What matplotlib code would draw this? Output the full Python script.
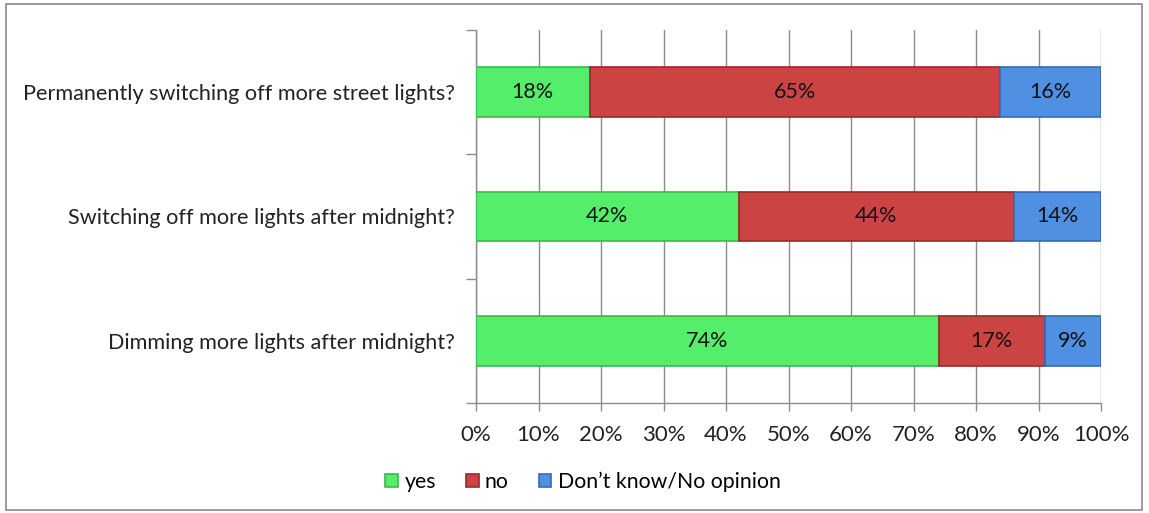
import matplotlib
matplotlib.use("Agg")
import matplotlib.pyplot as plt
from matplotlib.patches import Rectangle
from matplotlib.ticker import MultipleLocator, FuncFormatter, FixedLocator
import numpy as np

categories = ["Dimming more lights after midnight?",
              "Switching off more lights after midnight?",
              "Permanently switching off more street lights?"]
yes = [74, 42, 18]
no = [17, 44, 65]
dont_know = [9, 14, 16]
series_names = ["yes", "no", "Don\u2019t know/No opinion"]
colors = ["#55EE6A", "#CC4343", "#4F90E3"]
edges = ["#3DB850", "#952B2B", "#336CB3"]

plt.rcParams['font.family'] = ['Lato', 'DejaVu Sans']

fig = plt.figure(figsize=(11.49, 5.13), dpi=100)
fig.patches.append(Rectangle((0.005, 0.006), 0.989, 0.986, transform=fig.transFigure,
                             fill=False, edgecolor="#8a8a8a", linewidth=1.2))
ax = fig.add_axes([476/1149, 1-403/513, (1101-476)/1149, (403-30)/513])

data = np.array([yes, no, dont_know], dtype=float)
totals = data.sum(axis=0)
frac = data / totals * 100
y = np.arange(len(categories))
left = np.zeros(len(categories))
handles = []
for i, name in enumerate(series_names):
    bars = ax.barh(y, frac[i], left=left, height=0.4, color=colors[i],
                   edgecolor=edges[i], linewidth=1.2, label=name, zorder=3)
    handles.append(bars)
    for j in range(len(categories)):
        ax.text(left[j] + frac[i][j] / 2, y[j], f"{int(data[i][j])}%",
                ha="center", va="center", fontsize=15.5, color="#111111", zorder=4)
    left += frac[i]

ax.set_xlim(0, 100)
ax.set_ylim(-0.5, len(categories) - 0.5)
ax.xaxis.set_major_locator(MultipleLocator(10))
ax.xaxis.set_major_formatter(FuncFormatter(lambda v, p: f"{int(v)}%"))
ax.grid(axis="x", color="#8c8c8c", linewidth=1, zorder=0)
ax.set_axisbelow(True)

ax.set_yticks(y)
ax.set_yticklabels(categories, fontsize=15.6, color="#222222")
ax.yaxis.set_minor_locator(FixedLocator(np.arange(-0.5, len(categories), 1.0)))
ax.tick_params(axis="y", which="major", length=0, pad=15)
ax.tick_params(axis="y", which="minor", length=7, color="#8c8c8c", width=1)
ax.tick_params(axis="x", length=6, color="#8c8c8c", width=1, labelsize=16,
               labelcolor="#222222", pad=10)

for s in ["top", "right"]:
    ax.spines[s].set_visible(False)
for s in ["left", "bottom"]:
    ax.spines[s].set_color("#8c8c8c")
    ax.spines[s].set_linewidth(1)

fig.legend(handles=handles, labels=series_names, loc="center",
           bbox_to_anchor=(583/1149, 1-482/513), ncol=3, frameon=False,
           fontsize=15.3, handlelength=0.6, handleheight=0.6, handletextpad=0.3,
           columnspacing=1.4)

fig.savefig("out.png", dpi=100)
